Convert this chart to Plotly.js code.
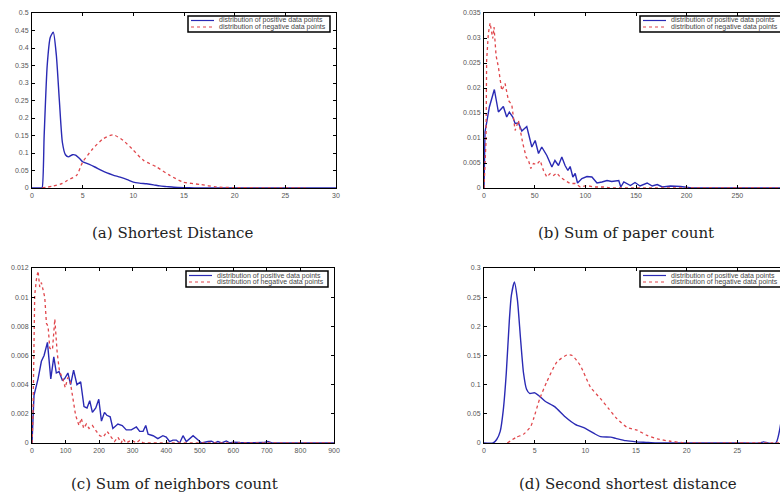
<!DOCTYPE html>
<html>
<head>
<meta charset="utf-8">
<script src="https://cdn.plot.ly/plotly-3.0.1.min.js"></script>
<style>
html, body { margin:0; padding:0; overflow:hidden; background:#fff; }
#chart { width:800px; height:497px; }
</style>
</head>
<body>
<div id="chart"></div>
<script>
// ---------- Data ----------
const captions = ["(a) Shortest Distance", "(b) Sum of paper count", "(c) Sum of neighbors count", "(d) Second shortest distance"];
const legendLabels = ["distribution of positive data points", "distribution of negative data points"];

// (a) Shortest Distance
const aPosX = [0, 0.9, 1.0, 1.2, 1.5, 1.8, 2.1, 2.4, 2.7, 3.0, 3.3, 3.6, 4.0, 4.3, 4.7, 5.0, 5.6, 6.2, 6.8, 7.4, 8.0, 8.7, 9.4, 10.0, 10.6, 11.3, 12.0, 12.6, 13.3, 14.0, 15.0, 16.0, 18.0, 22.0, 26.0, 30.0];
const aPosY = [0, 0, 0, 0.15, 0.35, 0.43, 0.445, 0.38, 0.25, 0.13, 0.095, 0.089, 0.095, 0.094, 0.084, 0.075, 0.068, 0.06, 0.051, 0.043, 0.037, 0.031, 0.024, 0.017, 0.014, 0.012, 0.009, 0.006, 0.004, 0.002, 0.001, 0.0005, 0, 0, 0, 0];
const aNegX = [1.0, 2.0, 3.0, 3.5, 4.4, 5.0, 6.0, 7.0, 8.0, 9.0, 10.0, 11.0, 12.3, 13.6, 14.9, 16.6, 18.2, 19.9, 22.0, 24.0, 27.0];
const aNegY = [0, 0.005, 0.013, 0.022, 0.036, 0.074, 0.112, 0.14, 0.152, 0.136, 0.108, 0.079, 0.06, 0.036, 0.017, 0.01, 0.003, 0.001, 0.0005, 0.0002, 0];

// (b) Sum of paper count
const bPosX = [0, 1, 5.3, 10.2, 14.2, 19.1, 22.4, 25, 28.4, 30.7, 34, 37.3, 42.2, 47.2, 50.5, 53.8, 57, 62, 67, 70, 73.5, 76.8, 80, 82.8, 85, 87.7, 90, 92.3, 96.6, 101.6, 106.5, 111.5, 116.4, 121.4, 126, 133, 135, 138, 144.5, 149, 154, 161, 166, 171, 176, 184, 194, 199, 205, 250, 300];
const bPosY = [0, 0.0112, 0.0162, 0.0197, 0.0152, 0.0163, 0.0142, 0.0152, 0.0142, 0.0129, 0.013, 0.0114, 0.0123, 0.0082, 0.0095, 0.0069, 0.0082, 0.0065, 0.0042, 0.0055, 0.0045, 0.0062, 0.0045, 0.0035, 0.0043, 0.0022, 0.0029, 0.001, 0.0019, 0.0023, 0.0022, 0.001, 0.0012, 0.0015, 0.0013, 0.0015, 0.0002, 0.0012, 0.0005, 0.0011, 0.0004, 0.001, 0.0004, 0.0007, 0.0002, 0.0004, 0.0003, 0.0002, 0, 0, 0];
const bNegX = [0, 1, 2, 2.6, 4.3, 6, 7.6, 8.6, 9.9, 11.9, 14.2, 17.5, 20.8, 24.1, 27.4, 30.7, 34, 38.3, 41.6, 43.9, 46.2, 48.8, 52.1, 55.4, 58.7, 62, 65.3, 68.6, 71.9, 75.2, 80, 85, 90, 95, 101.6, 108, 118, 126, 200, 300];
const bNegY = [0, 0.0055, 0.0095, 0.0255, 0.0309, 0.033, 0.0315, 0.0299, 0.0322, 0.0265, 0.0242, 0.0195, 0.0209, 0.0175, 0.0167, 0.0115, 0.0135, 0.0089, 0.0062, 0.0055, 0.0039, 0.0049, 0.0047, 0.0055, 0.0035, 0.0022, 0.0029, 0.0025, 0.003, 0.0022, 0.0015, 0.0009, 0.0009, 0.0002, 0.0005, 0.0002, 0.0002, 0, 0, 0];

// (c) Sum of neighbors count
const cPosX = [0, 6, 18, 28, 36, 46, 56, 65, 72.5, 80.5, 90.4, 97, 107, 115, 124, 134, 145, 155, 164, 172, 180, 190, 199, 207, 216, 223, 233, 241, 256, 269, 281, 296, 311, 321, 331, 339, 346, 361, 375, 382, 390, 400, 410, 420, 430, 440, 450, 460, 480, 495, 505, 525, 535, 545, 554, 565, 579, 590, 599, 620, 640, 660, 690, 703, 715, 750, 800, 850, 900];
const cPosY = [0, 0.00327, 0.0044, 0.0056, 0.006, 0.0069, 0.0044, 0.0059, 0.0048, 0.0049, 0.0043, 0.0044, 0.0048, 0.004, 0.005, 0.004, 0.0042, 0.0025, 0.0024, 0.0029, 0.0021, 0.0024, 0.003, 0.0015, 0.0021, 0.0019, 0.0018, 0.001, 0.0013, 0.0012, 0.0009, 0.0009, 0.0011, 0.0008, 0.0008, 0.0012, 0.0006, 0.0005, 0.0003, 0.0004, 0.0005, 0.0004, 0.0001, 0.0002, 0.0002, 0, 0.0005, 0.0001, 0.0005, 0.0002, 0, 0.0001, 0.00012, 0, 0.0001, 0, 0.00014, 0, 0.00005, 0.00003, 0.00005, 0.00002, 0.00003, 0.0001, 0, 0, 0, 0, 0];
const cNegX = [0, 3, 8, 13, 18, 23, 28, 33, 38, 43, 48, 53, 61, 68, 75, 82, 92, 99, 107, 114, 122, 130, 140, 147, 154, 162, 170, 180, 192, 202, 212, 224, 236, 246, 256, 266, 271, 281, 296, 311, 321, 331, 360, 450, 600, 900];
const cNegY = [0, 0.0019, 0.0101, 0.0112, 0.0118, 0.0107, 0.011, 0.0104, 0.01, 0.0082, 0.008, 0.0065, 0.0064, 0.0085, 0.0062, 0.0049, 0.0044, 0.0038, 0.0045, 0.0042, 0.003, 0.0019, 0.0012, 0.0017, 0.001, 0.0013, 0.001, 0.0012, 0.0008, 0.0005, 0.0004, 0.0008, 0.0004, 0.0001, 0.0004, 0, 0.0003, 0, 0.0002, 0, 0.0002, 0, 0, 0, 0, 0];

// (d) Second shortest distance
const dPosX = [0, 0.9, 1.25, 1.6, 1.9, 2.2, 2.5, 2.7, 3.0, 3.3, 3.6, 3.9, 4.2, 4.5, 5.0, 5.5, 6.0, 7.0, 8.0, 9.0, 10.0, 11.0, 11.5, 12.5, 13.0, 14.0, 15.0, 16.0, 17.0, 20.0, 25.0, 27.2, 27.6, 28.0, 28.8, 29.3];
const dPosY = [0, 0, 0.006, 0.02, 0.056, 0.12, 0.21, 0.253, 0.276, 0.245, 0.18, 0.12, 0.092, 0.085, 0.086, 0.08, 0.072, 0.062, 0.045, 0.032, 0.025, 0.015, 0.011, 0.01, 0.008, 0.004, 0.002, 0.001, 0, 0, 0, 0, 0.002, 0, 0, 0.035];
const dNegX = [2.3, 3.2, 3.9, 4.6, 4.9, 5.5, 6.2, 7.2, 8.2, 8.7, 9.5, 10.5, 11.5, 12.3, 13.1, 14.1, 15.1, 16.1, 17.1, 18.4, 19.7, 21.0, 25.0, 30.0];
const dNegY = [0, 0.01, 0.015, 0.028, 0.042, 0.076, 0.105, 0.139, 0.151, 0.15, 0.133, 0.096, 0.076, 0.059, 0.042, 0.027, 0.022, 0.013, 0.007, 0.003, 0.0006, 0, 0, 0];

const xTicks = [[0,5,10,15,20,25,30], [0,50,100,150,200,250,300], [0,100,200,300,400,500,600,700,800,900], [0,5,10,15,20,25,30]];
// labels of ticks that fall past the page edge (b, d) are off-page in the reference, so left blank
const xTickText = [["0","5","10","15","20","25","30"], ["0","50","100","150","200","250",""], ["0","100","200","300","400","500","600","700","800","900"], ["0","5","10","15","20","25",""]];
const yTicks = [[0,0.05,0.1,0.15,0.2,0.25,0.3,0.35,0.4,0.45,0.5], [0,0.005,0.01,0.015,0.02,0.025,0.03,0.035], [0,0.002,0.004,0.006,0.008,0.01,0.012], [0,0.05,0.1,0.15,0.2,0.25,0.3]];
const xRanges = [[0,30],[0,300],[0,900],[0,30]];
const yRanges = [[0,0.5],[0,0.035],[0,0.012],[0,0.3]];

// ---------- Layout helpers ----------
const W = 800, H = 497;
const px = v => v / W;
const py = v => 1 - v / H;
const BLUE = '#2a2ab4';
const RED = '#e0474c';

const panels = [
  {pos:[aPosX,aPosY], neg:[aNegX,aNegY], x0:32, x1:336, y0:13, y1:188, cap:[173,233], shape:'spline'},
  {pos:[bPosX,bPosY], neg:[bNegX,bNegY], x0:484, x1:788, y0:13, y1:188, cap:[626,233], shape:'linear'},
  {pos:[cPosX,cPosY], neg:[cNegX,cNegY], x0:32, x1:334, y0:268, y1:443, cap:[174,484], shape:'linear'},
  {pos:[dPosX,dPosY], neg:[dNegX,dNegY], x0:484, x1:788, y0:268, y1:443, cap:[628,484], shape:'spline'}
];

const traces = [];
const layout = {
  width: W, height: H,
  margin: {l:0, r:0, t:0, b:0},
  paper_bgcolor: '#fff', plot_bgcolor: '#fff',
  showlegend: false,
  shapes: [], annotations: []
};

panels.forEach((p, i) => {
  const n = i === 0 ? '' : String(i + 1);
  const xa = 'x' + n, ya = 'y' + n;
  traces.push({x:p.pos[0], y:p.pos[1], xaxis:xa, yaxis:ya, type:'scatter', mode:'lines',
    line:{color:BLUE, width:1.4, shape:p.shape, smoothing:0.6}, name:legendLabels[0], hoverinfo:'skip'});
  traces.push({x:p.neg[0], y:p.neg[1], xaxis:xa, yaxis:ya, type:'scatter', mode:'lines',
    line:{color:RED, width:1.3, dash:'3px,3px', shape:p.shape, smoothing:0.6}, name:legendLabels[1], hoverinfo:'skip'});
  const axCommon = {
    showgrid:false, zeroline:false, showline:true, linecolor:'#000', linewidth:1,
    mirror:'ticks', ticks:'inside', ticklen:3, tickcolor:'#000', tickwidth:1,
    tickfont:{family:'Liberation Sans, Arial, sans-serif', size:7, color:'#555'},
    fixedrange:true
  };
  layout['xaxis' + n] = Object.assign({}, axCommon, {
    domain:[px(p.x0), px(p.x1)], range:xRanges[i], anchor:ya,
    tickmode:'array', tickvals:xTicks[i], ticktext:xTickText[i], ticklabelstandoff:1
  });
  layout['yaxis' + n] = Object.assign({}, axCommon, {
    domain:[py(p.y1), py(p.y0)], range:yRanges[i], anchor:xa,
    tickmode:'array', tickvals:yTicks[i], ticktext:yTicks[i].map(String), ticklabelstandoff:1
  });

  // manual compact legend (MATLAB style)
  const lx1 = p.x1 - 6, lx0 = lx1 - 142;
  const ly0 = p.y0 + 3, ly1 = ly0 + 16;
  layout.shapes.push({type:'rect', xref:'paper', yref:'paper', x0:px(lx0), x1:px(lx1), y0:py(ly1), y1:py(ly0),
    line:{color:'#000', width:1.5}, fillcolor:'#fff', layer:'above'});
  const rows = [ly0 + 4.5, ly0 + 11];
  layout.shapes.push({type:'line', xref:'paper', yref:'paper', x0:px(lx0 + 3), x1:px(lx0 + 26), y0:py(rows[0]), y1:py(rows[0]),
    line:{color:BLUE, width:1.2}, layer:'above'});
  layout.shapes.push({type:'line', xref:'paper', yref:'paper', x0:px(lx0 + 3), x1:px(lx0 + 26), y0:py(rows[1]), y1:py(rows[1]),
    line:{color:RED, width:1.2, dash:'3px,3px'}, layer:'above'});
  legendLabels.forEach((t, k) => {
    layout.annotations.push({xref:'paper', yref:'paper', x:px(lx0 + 29), y:py(rows[k]), xanchor:'left', yanchor:'middle',
      text:t, showarrow:false, font:{family:'Liberation Sans, Arial, sans-serif', size:7, color:'#444'}});
  });

  // caption
  layout.annotations.push({xref:'paper', yref:'paper', x:px(p.cap[0]), y:py(p.cap[1]), xanchor:'center', yanchor:'middle',
    text:captions[i], showarrow:false, font:{family:'DejaVu Serif, Liberation Serif, serif', size:15, color:'#222'}});
});

Plotly.newPlot('chart', traces, layout, {staticPlot:true, displayModeBar:false});
</script>
</body>
</html>
